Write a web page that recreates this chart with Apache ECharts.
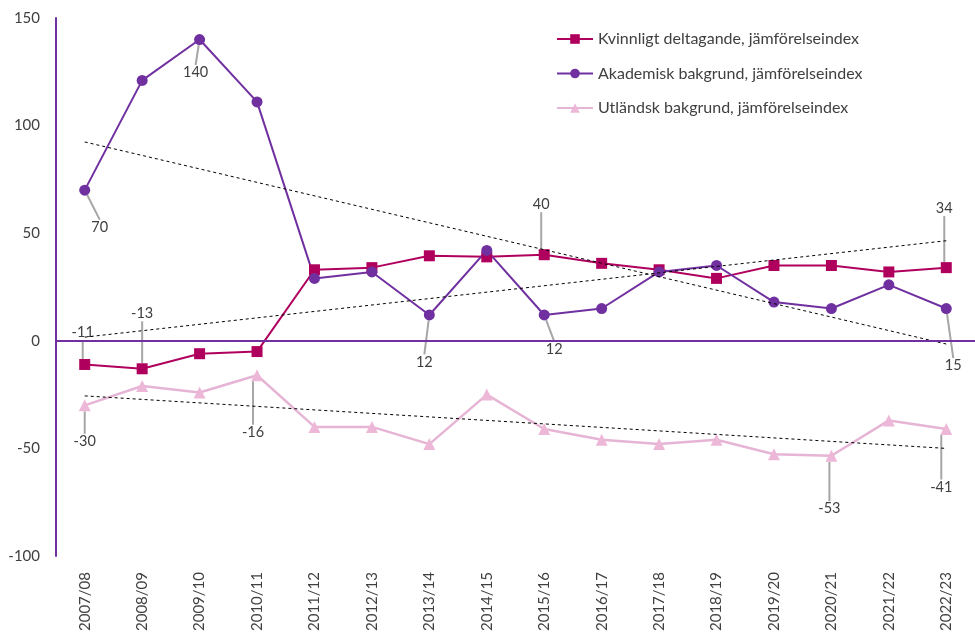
<!DOCTYPE html>
<html><head><meta charset="utf-8">
<script src="https://cdn.jsdelivr.net/npm/echarts@6/dist/echarts.min.js"></script>
<style>html,body{margin:0;padding:0;background:#fff}#c{width:975px;height:635px}</style>
</head><body><div id="c"></div>
<script>
const categories = ["2007/08","2008/09","2009/10","2010/11","2011/12","2012/13","2013/14","2014/15","2015/16","2016/17","2017/18","2018/19","2019/20","2020/21","2021/22","2022/23"];
const kvinnligt = [-11,-13,-6,-5,33,34,39.5,39,40,36,33,29,35,35,32,34];
const akademisk = [70,121,140,111,29,32,12,42,12,15,32,35,18,15,26,15];
const utlandsk = [-30,-21,-24,-16,-40,-40,-48,-25,-41,-46,-48,-46,-52.7,-53.4,-37,-41];
// trend line end values (first and last category)
const trendKvinnligt = [1.7, 46.5];
const trendAkademisk = [92.4, -1.5];
const trendUtlandsk = [-25.6, -50];
const yTicks = [-100,-50,0,50,100,150];
const names = ["Kvinnligt deltagande, jämförelseindex","Akademisk bakgrund, jämförelseindex","Utländsk bakgrund, jämförelseindex"];

// label offsets (index -> [dx, dy]) relative to the point
const offK = {0:[-2,-32],1:[0,-55],8:[-3,-50],15:[-2,-59]};
const offA = {0:[15,37],2:[-4,33],6:[-5,47],8:[10,34],15:[7,57]};
const offU = {0:[0,36],3:[-4,57],13:[-2,53],15:[-5,58]};

const FONT = 'Lato';
const TXT = '#404040';

function mkData(vals, offs){
  return vals.map((v,i)=> offs[i] ? {value:v, label:{show:true}} : v);
}
function mkLayout(offs){
  return function(p){
    const o = offs[p.dataIndex];
    if(!o) return {};
    return {dx:o[0], dy:o[1]};
  };
}
function lineSeries(name, vals, offs, color, symbol, size, lineColor, lw){
  return {
    name, type:'line', data: mkData(vals, offs),
    symbol, symbolSize:size,
    itemStyle:{color}, lineStyle:{color:lineColor, width:lw},
    label:{show:false, position:'inside', formatter:(p)=>Math.round(p.value), fontFamily:FONT, fontSize:14.5, color:TXT},
    labelLine:{show:true, lineStyle:{color:'#A6A6A6', width:2}},
    labelLayout: mkLayout(offs),
    emphasis:{disabled:true}, animation:false, z:3
  };
}
function trend(vals){
  return {type:'line', data:[[0,vals[0]],[categories.length-1,vals[1]]], symbol:'none',
    lineStyle:{color:'#000', width:1, type:[3,3]}, silent:true, animation:false, z:4, tooltip:{show:false}};
}

const chart = echarts.init(document.getElementById('c'), null, {renderer:'canvas'});
chart.setOption({
  backgroundColor:'#fff',
  animation:false,
  textStyle:{fontFamily:FONT},
  grid:{left:56, right:-11, top:18, bottom:79, containLabel:false},
  legend:{
    data:names, orient:'vertical', left:556, top:31, padding:0, itemWidth:36, itemHeight:12, itemGap:18.5,
    textStyle:{fontFamily:FONT, fontSize:16, color:TXT}
  },
  xAxis:{
    type:'category', data:categories, boundaryGap:true,
    axisLine:{show:false, onZero:false}, axisTick:{show:false},
    axisLabel:{rotate:90, margin:16, fontFamily:FONT, fontSize:15, color:TXT, interval:0},
    splitLine:{show:false}
  },
  yAxis:{
    type:'value', min:yTicks[0], max:yTicks[yTicks.length-1], interval:50,
    axisLine:{show:true, lineStyle:{color:'#7030A0', width:2}},
    axisTick:{show:false}, splitLine:{show:false},
    axisLabel:{margin:16, fontFamily:FONT, fontSize:15, color:TXT}
  },
  series:[
    Object.assign(lineSeries(names[0], kvinnligt, offK, '#B0005E', 'rect', 11, '#B0005E', 2),
      {markLine:{silent:true, symbol:'none', label:{show:false}, lineStyle:{color:'#7030A0', width:2, type:'solid'}, data:[{yAxis:0}], animation:false}}),
    lineSeries(names[1], akademisk, offA, '#7030A0', 'circle', 11, '#7030A0', 2),
    lineSeries(names[2], utlandsk, offU, '#EDB8D8', 'triangle', 12, '#E6B4D4', 2.5),
    trend(trendKvinnligt), trend(trendAkademisk), trend(trendUtlandsk)
  ]
});
</script></body></html>
